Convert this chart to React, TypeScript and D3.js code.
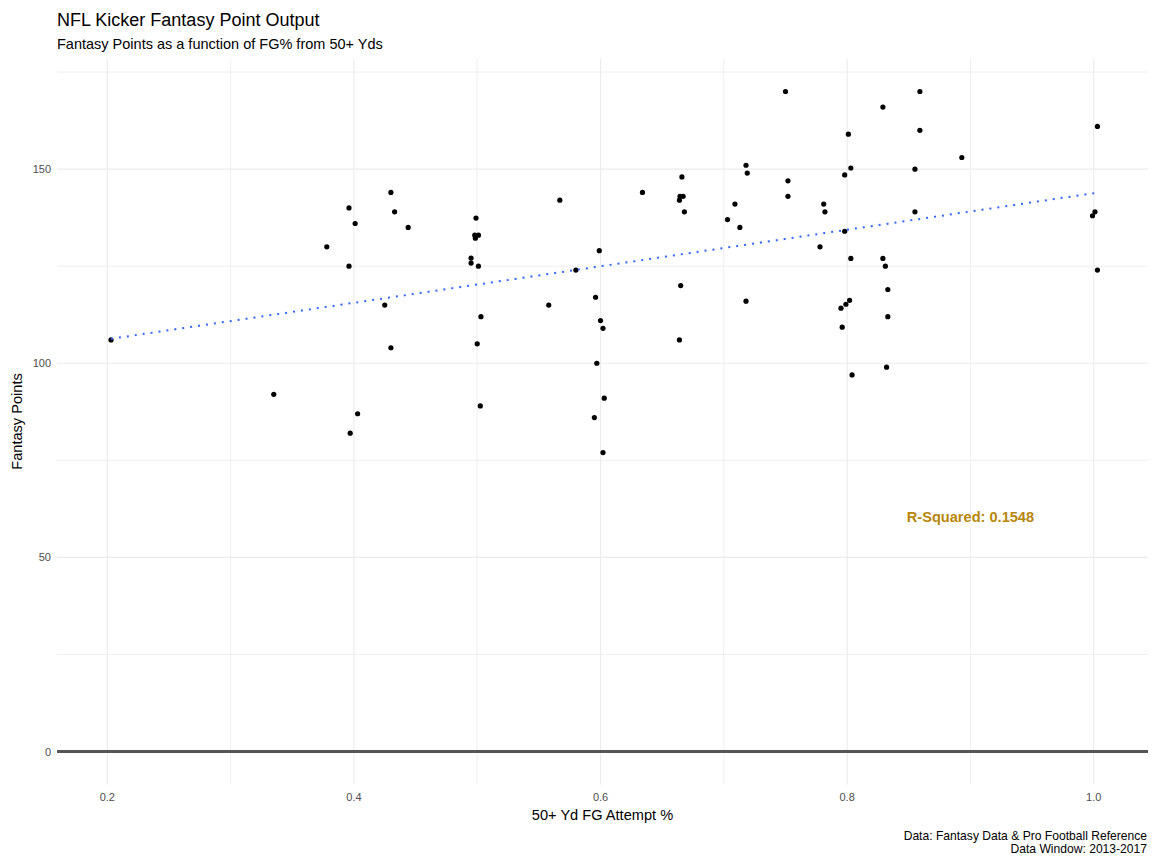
import React from "react";
import * as d3 from "d3";

const fgPct: number[] = [
  0.203, 0.396, 0.401, 0.378, 0.396, 0.335, 0.403, 0.397,
  0.430, 0.433, 0.444, 0.425, 0.430,
  0.499, 0.498, 0.501, 0.4985, 0.495, 0.495, 0.501, 0.503, 0.500, 0.5025,
  0.567, 0.558, 0.580,
  0.599, 0.596, 0.600, 0.602, 0.597, 0.603, 0.595, 0.602,
  0.634,
  0.666, 0.6645, 0.667, 0.664, 0.668, 0.665, 0.664,
  0.703, 0.709, 0.713, 0.718, 0.719, 0.718,
  0.750, 0.752, 0.752,
  0.781, 0.782, 0.778,
  0.801, 0.803, 0.798, 0.798, 0.803, 0.802, 0.799, 0.795, 0.796, 0.804,
  0.829, 0.829, 0.831, 0.833, 0.833, 0.832,
  0.859, 0.859, 0.855, 0.855,
  0.893,
  1.003, 1.001, 0.999, 1.003,
];

const fantasyPts: number[] = [
  106, 140, 136, 130, 125, 92, 87, 82,
  144, 139, 135, 115, 104,
  137.4, 133, 133, 132.2, 127.1, 125.8, 125, 112, 105, 89,
  142, 115, 124,
  129, 117, 111, 109, 100, 91, 86, 77,
  144,
  148, 143, 143, 142, 139, 120, 106,
  137, 141, 135, 151, 149, 116,
  170, 147, 143,
  141, 139, 130,
  159, 150.3, 148.5, 134, 127, 116.2, 115.2, 114.2, 109.3, 97,
  166, 127, 125, 119, 112, 99,
  170, 160, 150, 139,
  153,
  161, 139, 138, 124,
];

const xMajorTicks: number[] = [0.2, 0.4, 0.6, 0.8, 1.0];
const xMinorTicks: number[] = [0.3, 0.5, 0.7, 0.9];
const yMajorTicks: number[] = [0, 50, 100, 150];
const yMinorTicks: number[] = [25, 75, 125, 175];

const rSquaredLabel = "R-Squared: 0.1548";
const labelPos = { x: 0.9, y: 60 };

export default function App() {
  const W = 1172;
  const H = 868;
  const left = 57;
  const right = 1148;
  const top = 58.5;
  const bottom = 784.5;

  const x = d3.scaleLinear().domain([0.1592, 1.044]).range([left, right]);
  const y = d3.scaleLinear().domain([-8.5, 178.5]).range([bottom, top]);

  // least squares fit
  const n = fgPct.length;
  const mx = d3.mean(fgPct) as number;
  const my = d3.mean(fantasyPts) as number;
  let sxy = 0;
  let sxx = 0;
  for (let i = 0; i < n; i++) {
    sxy += (fgPct[i] - mx) * (fantasyPts[i] - my);
    sxx += (fgPct[i] - mx) ** 2;
  }
  const slope = sxy / sxx;
  const intercept = my - slope * mx;
  const [xmin, xmax] = d3.extent(fgPct) as [number, number];
  const fitPts: [number, number][] = d3
    .range(0, 81)
    .map((i) => xmin + ((xmax - xmin) * i) / 80)
    .map((v) => [v, intercept + slope * v]);
  const line = d3
    .line<[number, number]>()
    .x((d) => x(d[0]))
    .y((d) => y(d[1]));

  const font = "'Liberation Sans', Arial, sans-serif";
  const grid = "#ebebeb";

  return (
    <svg
      width={W}
      height={H}
      style={{ position: "absolute", left: 0, top: 0, background: "#fff" }}
      fontFamily={font}
    >
      {/* minor grid */}
      {xMinorTicks.map((t) => (
        <line key={"xm" + t} x1={x(t)} x2={x(t)} y1={top} y2={bottom} stroke={grid} strokeWidth={0.8} />
      ))}
      {yMinorTicks.map((t) => (
        <line key={"ym" + t} x1={left} x2={right} y1={y(t)} y2={y(t)} stroke={grid} strokeWidth={0.8} />
      ))}
      {/* major grid */}
      {xMajorTicks.map((t) => (
        <line key={"xM" + t} x1={x(t)} x2={x(t)} y1={top} y2={bottom} stroke={grid} strokeWidth={1.1} />
      ))}
      {yMajorTicks.map((t) => (
        <line key={"yM" + t} x1={left} x2={right} y1={y(t)} y2={y(t)} stroke={grid} strokeWidth={1.1} />
      ))}

      {/* zero line */}
      <line x1={left} x2={right} y1={y(0)} y2={y(0)} stroke="#555555" strokeWidth={3} />

      {/* points */}
      {fgPct.map((v, i) => (
        <circle key={i} cx={x(v)} cy={y(fantasyPts[i])} r={2.6} fill="#000" />
      ))}

      {/* fit line */}
      <path
        d={line(fitPts) as string}
        fill="none"
        stroke="#3366FF"
        strokeWidth={2}
        strokeDasharray="2,6"
      />

      {/* annotation */}
      <text
        x={x(labelPos.x)}
        y={y(labelPos.y)}
        textAnchor="middle"
        dominantBaseline="middle"
        fontSize={14.6}
        fontWeight="bold"
        fill="#B8860B"
      >
        {rSquaredLabel}
      </text>

      {/* axis tick labels */}
      {xMajorTicks.map((t) => (
        <text key={"xl" + t} x={x(t)} y={801} textAnchor="middle" fontSize={11} fill="#4d4d4d">
          {d3.format(".1f")(t)}
        </text>
      ))}
      {yMajorTicks.map((t) => (
        <text key={"yl" + t} x={51} y={y(t) + 4} textAnchor="end" fontSize={11} fill="#4d4d4d">
          {t}
        </text>
      ))}

      {/* axis titles */}
      <text x={(left + right) / 2} y={820} textAnchor="middle" fontSize={14.6} fill="#000">
        50+ Yd FG Attempt %
      </text>
      <text
        transform={`translate(22, ${(top + bottom) / 2}) rotate(-90)`}
        textAnchor="middle"
        fontSize={14.6}
        fill="#000"
      >
        Fantasy Points
      </text>

      {/* title & subtitle */}
      <text x={57} y={26} fontSize={18} fill="#000">
        NFL Kicker Fantasy Point Output
      </text>
      <text x={57} y={49} fontSize={14.5} fill="#000">
        Fantasy Points as a function of FG% from 50+ Yds
      </text>

      {/* caption */}
      <text x={1147} y={840} textAnchor="end" fontSize={12.1} fill="#000">
        Data: Fantasy Data &amp; Pro Football Reference
      </text>
      <text x={1147} y={853} textAnchor="end" fontSize={12.1} fill="#000">
        Data Window: 2013-2017
      </text>
    </svg>
  );
}
